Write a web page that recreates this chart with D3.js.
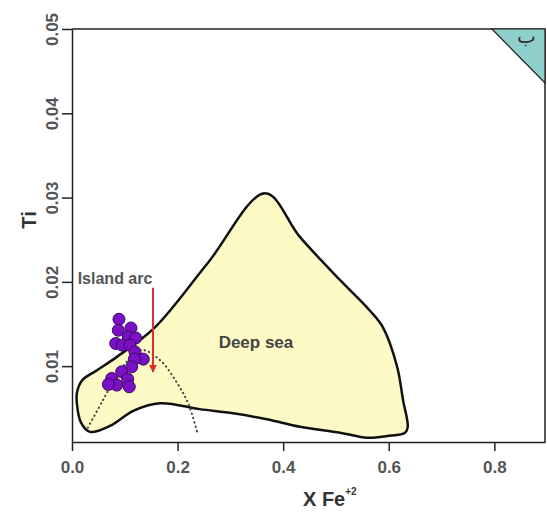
<!DOCTYPE html>
<html>
<head>
<meta charset="utf-8">
<script src="https://cdn.jsdelivr.net/npm/d3@7"></script>
<style>
  body { margin: 0; background: #fff; }
  text { font-family: "Liberation Sans", Arial, sans-serif; font-weight: bold; }
</style>
</head>
<body>
<div class="canvas"></div>
<script>
// tick values
const xTicks = [0.0, 0.2, 0.4, 0.6, 0.8];
const yTicks = [0.01, 0.02, 0.03, 0.04, 0.05];

// deep sea field outline [XFe2, Ti]
const deepSea = [
  [0.0095, 0.0069], [0.019, 0.0083], [0.047, 0.0095], [0.085, 0.0111],
  [0.157, 0.0146], [0.258, 0.0223], [0.366, 0.0305], [0.432, 0.0253],
  [0.508, 0.0202], [0.564, 0.0166], [0.589, 0.0146], [0.616, 0.0099],
  [0.627, 0.0060], [0.636, 0.0028], [0.631, 0.0021], [0.597, 0.0017],
  [0.559, 0.0015], [0.508, 0.0021], [0.432, 0.0028], [0.369, 0.0037],
  [0.305, 0.0044], [0.242, 0.0049], [0.167, 0.0056], [0.116, 0.0047],
  [0.072, 0.0029], [0.034, 0.0022], [0.017, 0.0033], [0.0095, 0.0054]
];

// island arc dotted curve
const islandArc = [
  [0.030, 0.0027], [0.059, 0.0060], [0.091, 0.0095], [0.131, 0.0119],
  [0.167, 0.0107], [0.199, 0.0080], [0.220, 0.0056], [0.237, 0.0022]
];

// upper right corner field
const cornerField = [[0.7955, 0.05], [0.896, 0.05], [0.896, 0.0436]];

// samples
const xFe = [0.089, 0.0877, 0.1117, 0.1066, 0.1206, 0.0828, 0.0953, 0.1098, 0.1193,
             0.135, 0.118, 0.1131, 0.0941, 0.0752, 0.0847, 0.0688, 0.1055, 0.1085];
const ti  = [0.01556, 0.01426, 0.01453, 0.01347, 0.01335, 0.01269, 0.01249, 0.01249, 0.01169,
             0.01083, 0.01083, 0.00992, 0.00933, 0.00854, 0.00775, 0.00783, 0.00846, 0.00755];

const arrow = [[0.1534, 0.0193], [0.1534, 0.0093]];

const svg = d3.select('.canvas').append('svg')
    .attr('width', 547)
    .attr('height', 514);

const x = d3.scaleLinear().domain([0, 0.896]).range([72, 545]);
const y = d3.scaleLinear().domain([0.001, 0.05]).range([442, 29]);

const line = d3.line().x(d => x(d[0])).y(d => y(d[1]));

// frame top and right
svg.append('path')
    .attr('d', `M${x(0)},${y(0.05)}H${x(0.896)}V${y(0.001)}`)
    .attr('fill', 'none')
    .attr('stroke', '#222')
    .attr('stroke-width', 1.5);

svg.append('path')
    .attr('d', line.curve(d3.curveLinearClosed)(cornerField))
    .attr('fill', '#8fd0cd')
    .attr('stroke', '#222')
    .attr('stroke-width', 1.2);

// field label
svg.append('text')
    .text('ب')
    .attr('x', 517)
    .attr('y', 43)
    .attr('font-size', 20)
    .style('font-family', '"DejaVu Sans"')
    .style('font-weight', 'normal')
    .attr('fill', '#333');

svg.append('path')
    .attr('d', line.curve(d3.curveCatmullRomClosed.alpha(0.5))(deepSea))
    .attr('fill', '#fdfac6')
    .attr('stroke', '#111')
    .attr('stroke-width', 2.5);

svg.append('path')
    .attr('d', line.curve(d3.curveCatmullRom.alpha(0.5))(islandArc))
    .attr('fill', 'none')
    .attr('stroke', '#444')
    .attr('stroke-width', 2)
    .attr('stroke-linecap', 'round')
    .attr('stroke-dasharray', '0.5,4');

// points
svg.append('g').selectAll('circle')
    .data(xFe.map((v, i) => [v, ti[i]]))
    .join('circle')
    .attr('cx', d => x(d[0]))
    .attr('cy', d => y(d[1]))
    .attr('r', 6)
    .attr('fill', '#7a10c6')
    .attr('stroke', '#3a0a5c')
    .attr('stroke-width', 1);

// arrow
svg.append('defs').append('marker')
    .attr('id', 'head')
    .attr('viewBox', '0 0 10 10')
    .attr('refX', 9).attr('refY', 5)
    .attr('markerWidth', 4).attr('markerHeight', 4)
    .attr('markerUnits', 'strokeWidth')
    .attr('orient', 'auto')
  .append('path')
    .attr('d', 'M0,0L10,5L0,10Z')
    .attr('fill', '#d8322e');

svg.append('path')
    .attr('d', line.curve(d3.curveLinear)(arrow))
    .attr('stroke', '#d8322e')
    .attr('stroke-width', 2)
    .attr('marker-end', 'url(#head)');

svg.append('text')
    .text('Island arc')
    .attr('x', x(0.0815))
    .attr('y', y(0.0198))
    .attr('text-anchor', 'middle')
    .attr('font-size', 16)
    .attr('fill', '#555');

svg.append('text')
    .text('Deep sea')
    .attr('x', x(0.3485))
    .attr('y', y(0.0121))
    .attr('text-anchor', 'middle')
    .attr('font-size', 17)
    .attr('fill', '#444');

// axes
const xAxis = svg.append('g')
    .attr('transform', `translate(0,${y(0.001)})`)
    .call(d3.axisBottom(x).tickValues(xTicks).tickFormat(d3.format('.1f')).tickSize(9).tickSizeOuter(0));
xAxis.select('.domain').attr('stroke', '#222').attr('stroke-width', 1.5);
xAxis.selectAll('.tick line').attr('stroke', '#222').attr('stroke-width', 1.5);
xAxis.selectAll('.tick text')
    .attr('dy', null).attr('y', 31)
    .attr('font-size', 17).attr('fill', '#555')
    .style('font-family', '"Liberation Sans", Arial, sans-serif').style('font-weight', 'bold');

const yAxis = svg.append('g')
    .attr('transform', `translate(${x(0)},0)`)
    .call(d3.axisLeft(y).tickValues(yTicks).tickFormat(d3.format('.2f')).tickSize(10).tickSizeOuter(0));
yAxis.select('.domain').attr('stroke', '#222').attr('stroke-width', 1.5);
yAxis.selectAll('.tick line').attr('stroke', '#222').attr('stroke-width', 1.5);
yAxis.selectAll('.tick text')
    .attr('x', null).attr('dy', null)
    .attr('transform', 'translate(-14,0) rotate(-90)')
    .attr('text-anchor', 'middle')
    .attr('font-size', 17).attr('fill', '#555')
    .style('font-family', '"Liberation Sans", Arial, sans-serif').style('font-weight', 'bold');

// axis titles
const xt = svg.append('text')
    .attr('x', 303)
    .attr('y', 506)
    .attr('font-size', 20)
    .attr('fill', '#333');
xt.append('tspan').text('X Fe');
xt.append('tspan').text('+2').attr('font-size', 10).attr('dy', -11);

svg.append('text')
    .text('Ti')
    .attr('transform', `translate(36,220) rotate(-90)`)
    .attr('text-anchor', 'middle')
    .attr('font-size', 20)
    .attr('fill', '#333');
</script>
</body>
</html>
